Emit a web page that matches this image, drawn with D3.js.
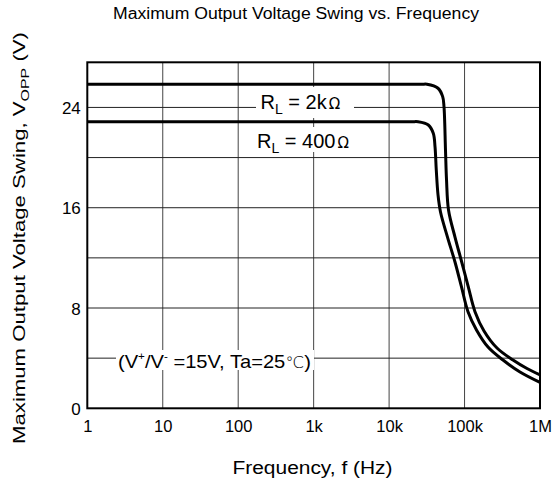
<!DOCTYPE html>
<html><head><meta charset="utf-8">
<script src="https://cdn.jsdelivr.net/npm/d3@7"></script>
<style>body{margin:0;background:#fff}svg{display:block}text{font-family:"Liberation Sans",Arial,sans-serif;fill:#000}</style>
</head><body>
<svg id="c" width="558" height="489"></svg>
<script>
// Data
const freq2k  = [1, 100, 10000, 27000, 31800, 44500, 51300, 53400, 55900, 57700, 61300, 74700, 91700, 112100, 137500, 181100, 269200, 438700, 672600, 1000000];
const vopp2k  = [25.85, 25.85, 25.85, 25.85, 25.85, 25.53, 24.86, 24.06, 20.60, 18.21, 15.82, 13.66, 11.67, 9.68, 7.71, 6.17, 4.81, 3.85, 3.17, 2.66];
const freq400 = [1, 100, 8000, 20000, 24200, 33100, 38500, 40600, 42200, 44500, 48000, 59400, 74700, 91100, 111100, 144000, 204600, 323300, 543000, 1000000];
const vopp400 = [22.86, 22.86, 22.86, 22.86, 22.86, 22.60, 21.94, 20.87, 19.01, 17.02, 15.66, 13.66, 11.67, 9.68, 7.71, 6.25, 4.89, 3.85, 2.90, 2.07];
const xTicks = [1, 10, 100, 1e3, 1e4, 1e5, 1e6];
const xTickLabels = ["1", "10", "100", "1k", "10k", "100k", "1M"];
const yGrid = [4, 8, 12, 16, 20, 24];
const yTicks = [0, 8, 16, 24];

const svg = d3.select("#c");
const L = 87.3, R = 540, T = 62.3, B = 408.3;
const x = d3.scaleLog().domain([1, 1e6]).range([L, R]);
const y = d3.scaleLinear().domain([0, 27.6]).range([B, T]);

// gridlines
svg.append("g").selectAll("line").data(xTicks.slice(1, -1)).join("line")
  .attr("x1", d => x(d)).attr("x2", d => x(d)).attr("y1", T).attr("y2", B)
  .attr("stroke", "#444").attr("stroke-width", 1);
svg.append("g").selectAll("line").data(yGrid).join("line")
  .attr("x1", L).attr("x2", R).attr("y1", d => y(d)).attr("y2", d => y(d))
  .attr("stroke", "#222").attr("stroke-width", 1);

// label boxes (white background over grid)
function boxLabel(x0, y0, w, h) {
  svg.append("rect").attr("x", x0).attr("y", y0).attr("width", w).attr("height", h).attr("fill", "#fff");
}
boxLabel(256, 87, 98, 31);
boxLabel(254, 127, 104, 25);
boxLabel(116, 350, 198, 20);

// curves
const line = d3.line().x(d => x(d[0])).y(d => y(d[1])).curve(d3.curveCatmullRom.alpha(0.5));
svg.append("path").datum(d3.zip(freq2k, vopp2k)).attr("d", line)
  .attr("fill", "none").attr("stroke", "#000").attr("stroke-width", 3);
svg.append("path").datum(d3.zip(freq400, vopp400)).attr("d", line)
  .attr("fill", "none").attr("stroke", "#000").attr("stroke-width", 3);

// frame
svg.append("rect").attr("x", L).attr("y", T).attr("width", R - L).attr("height", B - T)
  .attr("fill", "none").attr("stroke", "#000").attr("stroke-width", 2);

// axes labels
const xa = svg.append("g").attr("transform", `translate(0,${B})`)
  .call(d3.axisBottom(x).tickValues(xTicks).tickFormat((d, i) => xTickLabels[i]).tickSize(0).tickPadding(0));
xa.select(".domain").remove();
xa.selectAll("text").attr("dy", null).attr("y", 23.5).style("font-size", "16.5px")
  .style("font-family", '"Liberation Sans",Arial,sans-serif').attr("fill", "#000");

const ya = svg.append("g").attr("transform", `translate(${L},0)`)
  .call(d3.axisLeft(y).tickValues(yTicks).tickFormat(d3.format("d")).tickSize(0).tickPadding(0));
ya.select(".domain").remove();
ya.selectAll("text").attr("x", -6.5).attr("dy", "0.36em").style("font-size", "17px")
  .style("font-family", '"Liberation Sans",Arial,sans-serif').attr("fill", "#000");

// title
svg.append("text").attr("x", 296).attr("y", 19).attr("text-anchor", "middle")
  .attr("textLength", 366).attr("lengthAdjust", "spacingAndGlyphs")
  .style("font-size", "16px").text("Maximum Output Voltage Swing vs. Frequency");

// x axis title
svg.append("text").attr("x", 312.5).attr("y", 474).attr("text-anchor", "middle")
  .attr("textLength", 160).attr("lengthAdjust", "spacingAndGlyphs")
  .style("font-size", "18px").text("Frequency, f (Hz)");

// y axis title
const yt = svg.append("text").attr("transform", "translate(25,238) rotate(-90)")
  .attr("text-anchor", "middle").attr("textLength", 412).attr("lengthAdjust", "spacingAndGlyphs")
  .style("font-size", "16px");
yt.append("tspan").text("Maximum Output Voltage Swing, V");
yt.append("tspan").attr("dy", 4).style("font-size", "11.5px").text("OPP");
yt.append("tspan").attr("dy", -4).text(" (V)");

// curve labels
function rl(xs, by, val) {
  const t = svg.append("text").attr("x", xs).attr("y", by).style("font-size", "20px");
  t.append("tspan").text("R");
  t.append("tspan").attr("dy", 5).style("font-size", "14px").text("L");
  t.append("tspan").attr("dy", -5).text(" = " + val);
  t.append("tspan").attr("dx", 2).style("font-size", "15px").style("font-family", '"DejaVu Sans",sans-serif').text("Ω");
}
rl(260.5, 109, "2k");
rl(257, 148, "400");

// conditions label
const ct = svg.append("text").attr("x", 118).attr("y", 368).style("font-size", "19px")
  .attr("textLength", 193).attr("lengthAdjust", "spacingAndGlyphs");
ct.append("tspan").text("(V");
ct.append("tspan").attr("dy", -8).style("font-size", "11px").text("+");
ct.append("tspan").attr("dy", 8).text("/V");
ct.append("tspan").attr("dy", -8).style("font-size", "11px").text("-");
ct.append("tspan").attr("dy", 8).text(" =15V, Ta=25");
ct.append("tspan").style("font-family", '"DejaVu Sans",sans-serif').style("font-size", "16px").style("font-weight", "200").text("℃");
ct.append("tspan").text(")");
</script>
</body></html>
